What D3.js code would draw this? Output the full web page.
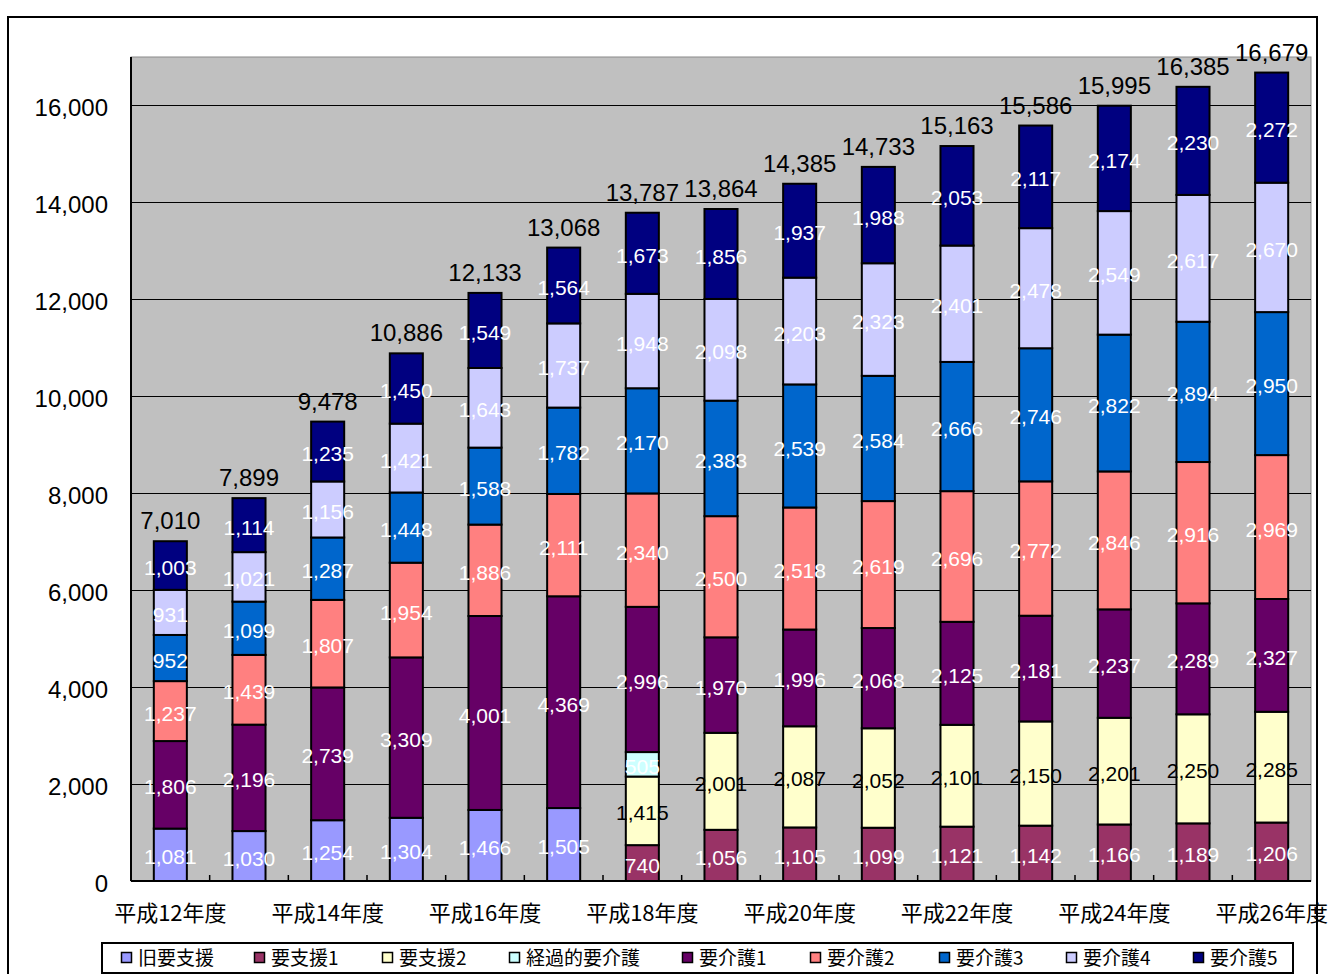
<!DOCTYPE html>
<html>
<head>
<meta charset="utf-8">
<script src="https://cdn.jsdelivr.net/npm/d3@7"></script>
<style>
  html, body { margin: 0; padding: 0; background: #ffffff; }
  svg { display: block; }
</style>
</head>
<body>
<svg id="chart" width="1329" height="974"></svg>
<script>
// ---------------- DATA ----------------
const categories = ['平成12年度','平成13年度','平成14年度','平成15年度','平成16年度','平成17年度','平成18年度','平成19年度','平成20年度','平成21年度','平成22年度','平成23年度','平成24年度','平成25年度','平成26年度'];
const xTickLabels = ['平成12年度','平成14年度','平成16年度','平成18年度','平成20年度','平成22年度','平成24年度','平成26年度'];
const yTickValues = [0,2000,4000,6000,8000,10000,12000,14000,16000];

const seriesNames = ['旧要支援','要支援1','要支援2','経過的要介護','要介護1','要介護2','要介護3','要介護4','要介護5'];
const seriesColors = ['#9999FF','#993366','#FFFFCC','#CCFFFF','#660066','#FF8080','#0066CC','#CCCCFF','#000080'];
const seriesLabelColors = ['#ffffff','#ffffff','#000000','#ffffff','#ffffff','#ffffff','#ffffff','#ffffff','#ffffff'];

const kyuYoshien = [1081,1030,1254,1304,1466,1505,0,0,0,0,0,0,0,0,0];
const yoshien1   = [0,0,0,0,0,0,740,1056,1105,1099,1121,1142,1166,1189,1206];
const yoshien2   = [0,0,0,0,0,0,1415,2001,2087,2052,2101,2150,2201,2250,2285];
const keikaKaigo = [0,0,0,0,0,0,505,0,0,0,0,0,0,0,0];
const kaigo1     = [1806,2196,2739,3309,4001,4369,2996,1970,1996,2068,2125,2181,2237,2289,2327];
const kaigo2     = [1237,1439,1807,1954,1886,2111,2340,2500,2518,2619,2696,2772,2846,2916,2969];
const kaigo3     = [952,1099,1287,1448,1588,1782,2170,2383,2539,2584,2666,2746,2822,2894,2950];
const kaigo4     = [931,1021,1156,1421,1643,1737,1948,2098,2203,2323,2401,2478,2549,2617,2670];
const kaigo5     = [1003,1114,1235,1450,1549,1564,1673,1856,1937,1988,2053,2117,2174,2230,2272];

const seriesValues = [kyuYoshien, yoshien1, yoshien2, keikaKaigo, kaigo1, kaigo2, kaigo3, kaigo4, kaigo5];

// ---------------- LAYOUT ----------------
const svg = d3.select('#chart');
const plot = { left: 131, right: 1311, top: 57, bottom: 881 };
const numFont = '"Liberation Sans", Arial, sans-serif';
const jpFont = '"Noto Sans CJK JP", "Noto Sans", sans-serif';

const table = categories.map((c, i) => {
  const row = { category: c };
  seriesNames.forEach((s, k) => { row[s] = seriesValues[k][i]; });
  return row;
});

const x = d3.scaleBand().domain(categories).range([plot.left, plot.right]).paddingInner(0.58).paddingOuter(0.29);
const xOuter = d3.scaleBand().domain(categories).range([plot.left, plot.right]);
const y = d3.scaleLinear().domain([0, 17000]).range([plot.bottom, plot.top]);

const stacked = d3.stack().keys(seriesNames)(table);

// outer frame
svg.append('rect').attr('x', 8).attr('y', 17).attr('width', 1309).attr('height', 980)
  .attr('fill', '#ffffff').attr('stroke', '#000').attr('stroke-width', 2);

// plot background
svg.append('rect')
  .attr('x', plot.left).attr('y', plot.top)
  .attr('width', plot.right - plot.left).attr('height', plot.bottom - plot.top)
  .attr('fill', '#C0C0C0').attr('stroke', '#8a8a8a').attr('stroke-width', 1);

// gridlines
svg.append('g').selectAll('line').data(yTickValues.filter(v => v > 0)).join('line')
  .attr('x1', plot.left).attr('x2', plot.right)
  .attr('y1', d => Math.round(y(d)) + 0.5).attr('y2', d => Math.round(y(d)) + 0.5)
  .attr('stroke', '#000').attr('stroke-width', 1);

// y axis
const yAxis = d3.axisLeft(y).tickValues(yTickValues).tickFormat(d3.format(',')).tickSize(0).tickPadding(23);
const yg = svg.append('g').attr('transform', `translate(${plot.left},0)`).call(yAxis);
yg.select('.domain').remove();
yg.selectAll('text').attr('font-family', numFont).attr('font-size', 24).attr('fill', '#000').attr('dy', '0.42em');
svg.append('line').attr('x1', plot.left).attr('x2', plot.left).attr('y1', plot.top).attr('y2', plot.bottom)
  .attr('stroke', '#000').attr('stroke-width', 2);

// bars
const layers = svg.append('g').selectAll('g').data(stacked).join('g')
  .attr('fill', (d, k) => seriesColors[k]);
layers.selectAll('rect').data(d => d.filter(p => p[1] - p[0] > 0)).join('rect')
  .attr('x', p => x(p.data.category))
  .attr('width', x.bandwidth())
  .attr('y', p => y(p[1]))
  .attr('height', p => y(p[0]) - y(p[1]))
  .attr('stroke', '#000').attr('stroke-width', 2);

// x axis line + inner ticks
svg.append('line').attr('x1', plot.left).attr('x2', plot.right).attr('y1', plot.bottom).attr('y2', plot.bottom)
  .attr('stroke', '#000').attr('stroke-width', 2);
svg.append('g').selectAll('line').data(categories.slice(1)).join('line')
  .attr('x1', c => xOuter(c)).attr('x2', c => xOuter(c))
  .attr('y1', plot.bottom).attr('y2', plot.bottom - 6)
  .attr('stroke', '#000').attr('stroke-width', 1.5);

// x labels
const xAxis = d3.axisBottom(x).tickValues(xTickLabels).tickSize(0).tickPadding(24);
const xg = svg.append('g').attr('transform', `translate(0,${plot.bottom})`).call(xAxis);
xg.select('.domain').remove();
xg.selectAll('text').attr('font-family', jpFont).attr('font-size', 22).attr('fill', '#000');

// segment labels
stacked.forEach((layer, k) => {
  svg.append('g').selectAll('text').data(layer.filter(p => p[1] - p[0] > 0)).join('text')
    .attr('x', p => x(p.data.category) + x.bandwidth() / 2)
    .attr('y', p => (y(p[0]) + y(p[1])) / 2 + 2)
    .attr('dy', '0.36em')
    .attr('text-anchor', 'middle')
    .attr('font-family', numFont).attr('font-size', 21)
    .attr('fill', seriesLabelColors[k])
    .text(p => d3.format(',')(p[1] - p[0]));
});

// totals
const topLayer = stacked[stacked.length - 1];
svg.append('g').selectAll('text').data(topLayer).join('text')
  .attr('x', p => x(p.data.category) + x.bandwidth() / 2)
  .attr('y', p => y(p[1]) - 12)
  .attr('text-anchor', 'middle')
  .attr('font-family', numFont).attr('font-size', 24).attr('fill', '#000')
  .text(p => d3.format(',')(p[1]));

// legend
const legendX = [121, 254, 382, 509, 682, 810, 939, 1066, 1193];
const lg = svg.append('g');
lg.append('rect').attr('x', 102).attr('y', 943).attr('width', 1191).attr('height', 30)
  .attr('fill', '#fff').attr('stroke', '#000').attr('stroke-width', 2);
const items = lg.selectAll('g.item').data(seriesNames).join('g').attr('class', 'item')
  .attr('transform', (d, k) => `translate(${legendX[k]},958)`);
items.append('rect').attr('x', 0.5).attr('y', -5.5).attr('width', 10).attr('height', 10)
  .attr('fill', (d, k) => seriesColors[k]).attr('stroke', '#000').attr('stroke-width', 1.5);
items.append('text').attr('x', 17).attr('y', 0).attr('dy', '0.36em')
  .attr('font-family', jpFont).attr('font-size', 19).attr('fill', '#000')
  .text(d => d);

// right frame line drawn on top (overlaps last label like the reference)
svg.append('line').attr('x1', 1317).attr('x2', 1317).attr('y1', 17).attr('y2', 974)
  .attr('stroke', '#000').attr('stroke-width', 2);
</script>
</body>
</html>
